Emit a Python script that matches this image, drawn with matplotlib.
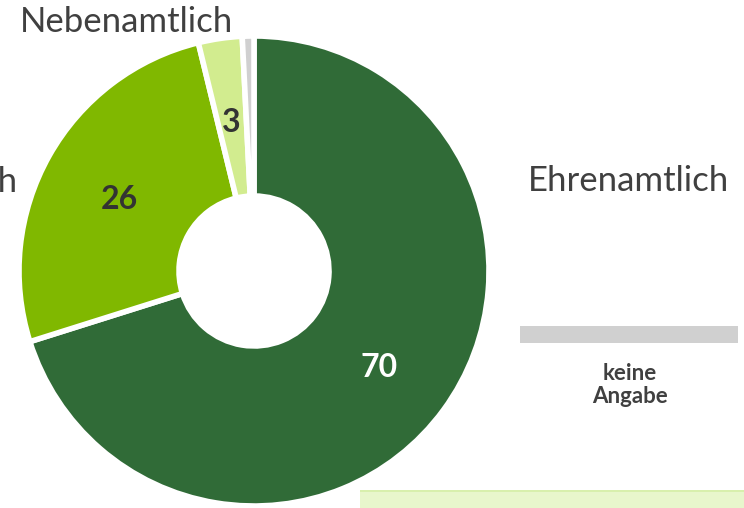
import numpy as np
import matplotlib.pyplot as plt
import matplotlib.patches as patches

# data
categories = ["Ehrenamtlich", "Hauptamtlich", "Nebenamtlich", "keine Angabe"]
values = [70, 26, 3, 0.8]
value_labels = ["70", "26", "3", ""]
colors = ["#306b37", "#80b800", "#d2ec8f", "#d0d0d0"]
label_colors = ["white", "#333333", "#333333", "#333333"]

plt.rcParams['font.family'] = ['Lato', 'DejaVu Sans']

W, H = 744, 508
fig = plt.figure(figsize=(W / 100, H / 100), dpi=100)
ax = fig.add_axes([0, 0, 1, 1])

cx, cy = 254, H - 271
R = 235
hole = 75

wedges, _ = ax.pie(values, colors=colors, startangle=90, counterclock=False,
                   center=(cx, cy), radius=R, frame=True,
                   wedgeprops=dict(width=R - hole, edgecolor='white', linewidth=4))
ax.set_xlim(0, W)
ax.set_ylim(0, H)
ax.axis('off')

# value labels inside the ring
for w, lab, c in zip(wedges, value_labels, label_colors):
    if not lab:
        continue
    ang = np.deg2rad((w.theta1 + w.theta2) / 2)
    r = 155
    ax.text(cx + r * np.cos(ang), cy + r * np.sin(ang) - 5, lab, ha='center', va='center',
            fontsize=23, fontweight='bold', color=c)

txt = "#404040"
ax.text(20, H - 22, categories[2], ha='left', va='center', fontsize=25, color=txt)
ax.text(18, H - 182, categories[1], ha='right', va='center', fontsize=25, color=txt)
ax.text(528, H - 181, categories[0], ha='left', va='center', fontsize=25, color=txt)
ax.text(630, H - 385, "keine\nAngabe", ha='center', va='center', fontsize=16,
        fontweight='bold', color=txt, linespacing=1.1)

# legend-ish bars
ax.add_patch(patches.Rectangle((520, H - 343), 218, 17, facecolor="#d0d0d0", edgecolor='none'))
ax.add_patch(patches.Rectangle((360, 0), 384, 18, facecolor="#e8f6cc", edgecolor='none', zorder=0))
ax.add_patch(patches.Rectangle((360, 16), 384, 2, facecolor="#d8efad", edgecolor='none', zorder=0))

fig.savefig('out.png', dpi=100)
